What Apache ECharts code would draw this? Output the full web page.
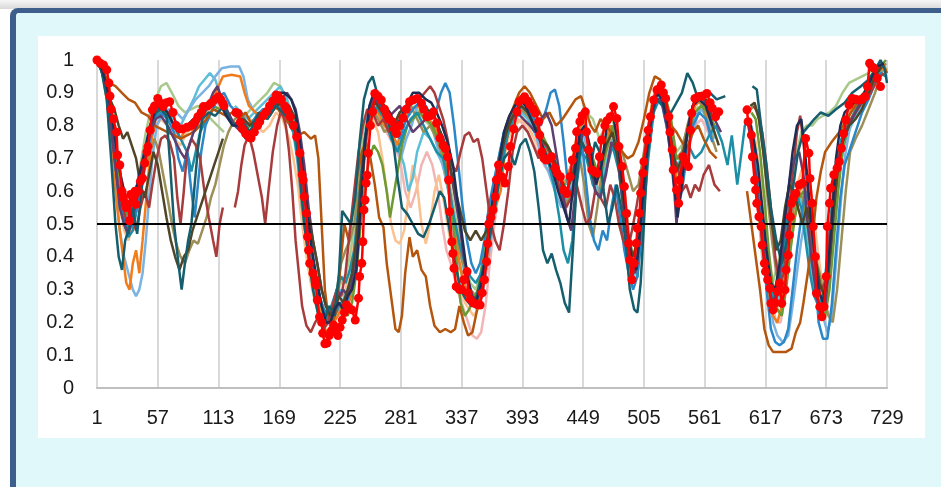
<!DOCTYPE html>
<html>
<head>
<meta charset="utf-8">
<script src="https://cdn.jsdelivr.net/npm/echarts@6/dist/echarts.min.js"></script>
<style>
html,body{margin:0;padding:0;width:941px;height:487px;overflow:hidden;background:#ffffff;}
#topstrip{position:absolute;left:0;top:0;width:941px;height:9px;background:linear-gradient(#f6f6f6,#d9d9d9);}
#frame{position:absolute;left:10px;top:8px;width:960px;height:520px;border-top:5px solid #3e5e8c;border-left:6px solid #3e5e8c;border-top-left-radius:8px;background:#e0f8fa;}
#chart{position:absolute;left:38px;top:36px;width:887px;height:402px;background:#ffffff;}
</style>
</head>
<body>
<div id="topstrip"></div>
<div id="frame"></div>
<div id="chart"></div>
<script>
// category labels 1..729 (positions along the sequence)
var categories = [];
for (var i = 1; i <= 729; i++) categories.push(String(i));
var yTicks = [0,0.1,0.2,0.3,0.4,0.5,0.6,0.7,0.8,0.9,1];
var threshold = 0.5;

// [position, value]; null = gap
var sDarkTeal = [[1,1.0],[5,0.97],[10,0.88],[14,0.7],[18,0.5],[21,0.4],[24,0.36],[27,0.45],[30,0.48],[34,0.55],[38,0.47],[42,0.6],[46,0.72],[50,0.8],[55,0.84],[60,0.85],[65,0.83],[68,0.7],[72,0.5],[76,0.38],[79,0.3],[82,0.38],[85,0.45],[88,0.5],[91,0.62],[94,0.73],[98,0.82],[104,0.84],[110,0.83],[118,0.86],[126,0.8],[134,0.82],[142,0.78],[150,0.84],[158,0.82],[166,0.86],[172,0.84],[178,0.82],[184,0.78],[188,0.65],[192,0.5],[196,0.4],[200,0.3],[205,0.22],[210,0.2],[215,0.25],[220,0.22],[224,0.35],[227,0.54],[231,0.52],[235,0.5],[239,0.58],[243,0.75],[247,0.88],[251,0.93],[255,0.95],[259,0.9],[264,0.86],[269,0.82],[274,0.75],[278,0.64],[282,0.55],[287,0.53],[292,0.5],[297,0.47],[302,0.46],[307,0.5],[312,0.55],[317,0.6],[321,0.58],[326,0.48],[331,0.38],[336,0.3],[341,0.27],[346,0.25],[351,0.28],[356,0.35],[361,0.42],[366,0.52],[371,0.62],[376,0.7],[381,0.72],[386,0.68],[391,0.74],[396,0.76],[400,0.72],[404,0.66],[408,0.55],[412,0.42],[416,0.38],[420,0.41],[424,0.36],[428,0.32],[432,0.26],[436,0.23],[440,0.45],[444,0.68],[448,0.75],[452,0.72],[456,0.68],[460,0.75],[464,0.72],[468,0.6],[472,0.5],[476,0.55],[480,0.62],[484,0.55],[488,0.45],[492,0.3],[496,0.24],[499,0.23],[502,0.32],[505,0.5],[508,0.7],[512,0.82],[516,0.88],[520,0.87],[525,0.85],[530,0.84],[535,0.87],[540,0.9],[545,0.96],[550,0.93],[555,0.88],[560,0.89],[566,0.9],[572,0.88],[580,0.89],null,[605,0.92],[609,0.91],[613,0.8],[617,0.7],[622,0.55],[627,0.45],[632,0.38],[637,0.45],[642,0.6],[647,0.72],[652,0.78],[657,0.8],[662,0.82],[668,0.84],[675,0.83],[682,0.85],[690,0.87],[697,0.9],[705,0.92],[712,0.94],[718,0.97],[723,1.0],[727,0.97],[729,0.93]];

var sBrown = [[1,1.0],[6,0.97],[12,0.93],[18,0.92],[24,0.9],[30,0.88],[36,0.87],[42,0.84],[48,0.83],[54,0.8],[60,0.79],[66,0.78],[72,0.77],[78,0.76],[84,0.77],[90,0.78],[96,0.8],[102,0.82],[108,0.85],[114,0.84],[120,0.83],[126,0.84],[132,0.82],[138,0.84],[144,0.8],[150,0.82],[156,0.84],[162,0.86],[168,0.85],[174,0.82],[180,0.8],[186,0.77],[192,0.78],[198,0.76],[202,0.77],[205,0.7],[208,0.5],[211,0.3],[214,0.22],[218,0.2],[222,0.24],[226,0.4],[229,0.5],[233,0.45],[237,0.55],[241,0.65],[245,0.72],[249,0.75],[253,0.7],[257,0.62],[261,0.52],[265,0.49],[268,0.38],[272,0.28],[276,0.18],[279,0.17],[282,0.22],[285,0.35],[289,0.46],[292,0.4],[296,0.42],[300,0.36],[304,0.34],[308,0.25],[312,0.19],[317,0.17],[322,0.18],[327,0.17],[331,0.18],[335,0.25],[339,0.2],[343,0.16],[347,0.17],[352,0.25],[357,0.35],[362,0.45],[367,0.58],[372,0.7],[378,0.8],[384,0.85],[390,0.9],[395,0.92],[400,0.9],[406,0.86],[412,0.82],[418,0.84],[424,0.8],[430,0.82],[436,0.85],[442,0.88],[447,0.89],[452,0.84],[456,0.8],[460,0.78],[465,0.82],[470,0.8],[475,0.78],[480,0.74],[485,0.72],[490,0.7],[495,0.71],[500,0.75],[505,0.82],[510,0.9],[515,0.95],[520,0.94],[525,0.88],[530,0.8],[535,0.78],[540,0.75],[545,0.73],[550,0.78],[555,0.8],[560,0.76],[566,0.72],[572,0.7],null,[600,0.6],[604,0.5],[608,0.4],[612,0.3],[616,0.18],[620,0.13],[624,0.11],[630,0.11],[636,0.11],[641,0.12],[645,0.17],[649,0.2],[652,0.26],[656,0.35],[660,0.45],[664,0.58],[668,0.66],[672,0.72],[678,0.75],[685,0.78],[692,0.82],[700,0.86],[708,0.9],[715,0.94],[720,0.97],[725,0.99],[729,0.96]];

var sOrange = [[1,1.0],[6,0.96],[10,0.88],[14,0.75],[18,0.6],[22,0.48],[25,0.4],[28,0.32],[31,0.3],[34,0.38],[37,0.42],[40,0.35],[43,0.45],[47,0.6],[51,0.75],[55,0.82],[60,0.85],[66,0.84],[72,0.8],[78,0.76],[84,0.8],[90,0.78],[96,0.8],[102,0.85],[108,0.88],[113,0.92],[117,0.95],[125,0.955],[133,0.95],[137,0.9],[141,0.86],[147,0.84],[153,0.83],[159,0.85],[165,0.88],[171,0.86],[177,0.84],[183,0.8],[187,0.72],[191,0.6],[195,0.5],[199,0.4],[203,0.3],[207,0.22],[211,0.18],[215,0.17],[219,0.2],[223,0.22],[227,0.25],[231,0.24],[235,0.28],[239,0.35],[243,0.52],[247,0.68],[251,0.8],[255,0.86],[260,0.84],[266,0.8],[272,0.78],[278,0.74],[283,0.82],[289,0.84],[295,0.86],[301,0.85],[306,0.82],[312,0.8],[318,0.74],[323,0.68],[328,0.55],[333,0.42],[338,0.33],[343,0.28],[348,0.26],[353,0.28],[358,0.35],[363,0.45],[368,0.55],[373,0.6],[378,0.75],[384,0.83],[390,0.86],[396,0.85],[402,0.82],[408,0.78],[414,0.72],[420,0.7],[426,0.65],[432,0.62],[438,0.68],[444,0.78],[450,0.82],[456,0.7],[462,0.64],[468,0.72],[474,0.8],[480,0.78],[486,0.6],[490,0.45],[494,0.36],[498,0.4],[502,0.55],[507,0.72],[512,0.86],[517,0.92],[522,0.92],[527,0.85],[532,0.72],[536,0.6],[540,0.68],[546,0.8],[552,0.86],[558,0.88],[564,0.83],[570,0.8],null,[604,0.78],[608,0.65],[612,0.52],[616,0.38],[620,0.28],[624,0.22],[628,0.2],[632,0.25],[636,0.35],[640,0.45],[644,0.52],[648,0.6],[652,0.62],[656,0.58],[660,0.45],[664,0.32],[668,0.25],[672,0.28],[676,0.4],[680,0.55],[685,0.68],[690,0.78],[696,0.85],[702,0.88],[708,0.9],[714,0.95],[720,0.98],[725,0.97]];

var sLightBlue = [[1,1.0],[6,0.96],[10,0.9],[14,0.78],[18,0.62],[22,0.48],[26,0.4],[30,0.35],[34,0.3],[37,0.28],[40,0.3],[43,0.35],[46,0.45],[49,0.58],[52,0.7],[56,0.8],[62,0.84],[68,0.85],[74,0.84],[80,0.82],[86,0.85],[92,0.88],[98,0.9],[104,0.92],[110,0.95],[116,0.975],[124,0.98],[132,0.98],[136,0.95],[140,0.88],[146,0.84],[152,0.82],[158,0.85],[164,0.88],[170,0.86],[176,0.82],[182,0.78],[186,0.68],[190,0.55],[194,0.45],[198,0.36],[202,0.28],[206,0.22],[210,0.2],[214,0.22],[219,0.25],[224,0.23],[229,0.28],[234,0.3],[238,0.38],[242,0.5],[246,0.7],[250,0.82],[255,0.87],[260,0.88],[266,0.85],[271,0.8],[276,0.75],[281,0.7],[286,0.76],[291,0.8],[296,0.86],[301,0.88],[306,0.84],[311,0.78],[316,0.72],[321,0.66],[326,0.58],[331,0.45],[336,0.36],[341,0.3],[346,0.26],[351,0.24],[356,0.28],[361,0.38],[366,0.5],[371,0.62],[376,0.74],[381,0.8],[387,0.85],[393,0.87],[399,0.84],[405,0.78],[411,0.7],[417,0.66],[423,0.6],[429,0.55],[435,0.58],[441,0.7],[447,0.8],[452,0.74],[458,0.62],[464,0.66],[470,0.74],[476,0.8],[482,0.7],[487,0.52],[491,0.4],[495,0.33],[499,0.38],[503,0.55],[508,0.74],[513,0.86],[518,0.9],[524,0.88],[530,0.76],[535,0.62],[539,0.6],[544,0.7],[550,0.78],[556,0.85],[562,0.84],[568,0.78],null,[604,0.8],[608,0.72],[612,0.6],[616,0.45],[620,0.3],[624,0.2],[628,0.16],[633,0.14],[638,0.16],[642,0.25],[646,0.35],[650,0.45],[654,0.52],[658,0.55],[662,0.45],[666,0.32],[670,0.22],[674,0.17],[678,0.22],[682,0.38],[686,0.55],[690,0.7],[696,0.82],[702,0.86],[708,0.88],[714,0.92],[720,0.96],[726,0.97]];

var sBlue = [[1,1.0],[6,0.96],[10,0.9],[14,0.8],[18,0.68],[22,0.58],[26,0.52],[30,0.48],[34,0.5],[38,0.55],[42,0.62],[46,0.7],[50,0.76],[55,0.82],[60,0.84],[66,0.82],[72,0.78],[76,0.7],[80,0.66],[84,0.72],[88,0.6],[91,0.52],[94,0.62],[97,0.72],[101,0.8],[106,0.84],[112,0.88],[118,0.9],[124,0.86],[130,0.84],[136,0.82],[142,0.8],[148,0.83],[154,0.85],[160,0.84],[166,0.87],[172,0.85],[178,0.82],[184,0.78],[188,0.7],[192,0.58],[196,0.48],[200,0.4],[204,0.32],[208,0.25],[212,0.22],[216,0.2],[220,0.22],[225,0.26],[230,0.25],[235,0.3],[240,0.45],[244,0.62],[248,0.76],[252,0.85],[257,0.89],[262,0.87],[268,0.84],[274,0.8],[280,0.76],[286,0.82],[292,0.85],[298,0.87],[304,0.86],[310,0.82],[314,0.85],[318,0.9],[322,0.93],[326,0.9],[330,0.8],[334,0.68],[338,0.55],[342,0.45],[346,0.38],[350,0.35],[354,0.38],[358,0.45],[362,0.55],[366,0.62],[371,0.7],[376,0.78],[381,0.82],[386,0.84],[392,0.88],[398,0.85],[404,0.82],[410,0.8],[415,0.85],[419,0.9],[423,0.91],[427,0.86],[431,0.75],[435,0.62],[439,0.58],[443,0.7],[447,0.78],[451,0.65],[455,0.52],[459,0.45],[463,0.42],[467,0.48],[471,0.45],[475,0.55],[479,0.62],[483,0.52],[487,0.42],[491,0.35],[495,0.3],[499,0.34],[503,0.5],[507,0.68],[512,0.82],[517,0.88],[522,0.86],[527,0.78],[532,0.65],[536,0.55],[540,0.6],[545,0.72],[550,0.8],[556,0.84],[562,0.82],[568,0.75],null,[602,0.78],[606,0.7],[610,0.58],[614,0.45],[618,0.3],[622,0.18],[626,0.14],[630,0.13],[634,0.14],[638,0.18],[642,0.3],[646,0.42],[650,0.52],[654,0.6],[658,0.55],[662,0.38],[666,0.2],[670,0.15],[674,0.15],[678,0.25],[682,0.42],[686,0.58],[690,0.68],[694,0.72],[700,0.78],[706,0.84],[712,0.88],[718,0.93],[724,0.96]];

var sNavy = [[1,1.0],[6,0.97],[10,0.92],[14,0.85],[18,0.75],[22,0.66],[26,0.6],[30,0.55],[34,0.58],[38,0.62],[42,0.68],[46,0.74],[50,0.8],[55,0.85],[60,0.86],[66,0.84],[72,0.8],[78,0.79],[84,0.8],[90,0.82],[96,0.84],[102,0.86],[108,0.88],[114,0.87],[120,0.83],[126,0.8],[132,0.8],[138,0.76],[144,0.77],[150,0.8],[156,0.83],[162,0.86],[168,0.9],[174,0.9],[180,0.88],[184,0.84],[188,0.75],[192,0.62],[196,0.5],[200,0.4],[204,0.32],[208,0.25],[212,0.2],[216,0.2],[220,0.24],[224,0.26],[228,0.24],[232,0.28],[236,0.3],[240,0.36],[244,0.55],[248,0.75],[252,0.86],[256,0.9],[261,0.88],[266,0.86],[271,0.84],[276,0.8],[281,0.82],[286,0.86],[292,0.9],[298,0.9],[304,0.88],[309,0.87],[314,0.84],[319,0.8],[324,0.75],[329,0.68],[334,0.55],[338,0.45],[342,0.35],[346,0.28],[350,0.26],[354,0.3],[358,0.38],[362,0.48],[366,0.58],[371,0.68],[376,0.78],[381,0.83],[386,0.86],[391,0.88],[396,0.86],[401,0.82],[406,0.78],[411,0.74],[416,0.7],[421,0.66],[426,0.6],[431,0.55],[436,0.5],[441,0.65],[446,0.78],[451,0.8],[456,0.72],[461,0.62],[466,0.68],[471,0.8],[476,0.84],[481,0.75],[486,0.6],[490,0.48],[494,0.38],[498,0.36],[502,0.5],[507,0.7],[512,0.84],[517,0.9],[522,0.88],[527,0.8],[532,0.65],[536,0.52],[540,0.62],[545,0.78],[550,0.86],[556,0.88],[562,0.86],[568,0.8],null,[602,0.82],[606,0.76],[610,0.68],[614,0.55],[618,0.42],[622,0.32],[626,0.3],[630,0.38],[634,0.5],[638,0.6],[642,0.72],[646,0.8],[650,0.82],[654,0.7],[658,0.55],[662,0.42],[666,0.3],[670,0.26],[674,0.35],[678,0.5],[682,0.7],[686,0.8],[690,0.84],[696,0.86],[702,0.88],[708,0.9],[714,0.94],[720,0.98],[726,0.99]];

var sPurple = [[1,1.0],[6,0.96],[10,0.9],[14,0.8],[18,0.68],[22,0.55],[26,0.5],[30,0.47],[34,0.52],[38,0.58],[42,0.65],[46,0.72],[50,0.78],[55,0.82],[60,0.83],[66,0.8],[72,0.76],[78,0.72],[82,0.7],[86,0.74],[90,0.78],[96,0.82],[102,0.85],[108,0.9],[112,0.92],[116,0.88],[122,0.84],[128,0.8],[134,0.78],[140,0.76],[146,0.78],[152,0.82],[158,0.84],[164,0.86],[170,0.88],[176,0.9],[180,0.88],[184,0.85],[188,0.78],[192,0.68],[196,0.55],[200,0.45],[204,0.38],[208,0.3],[212,0.25],[216,0.22],[220,0.24],[224,0.28],[228,0.3],[232,0.28],[236,0.32],[240,0.4],[244,0.58],[248,0.74],[252,0.84],[257,0.88],[262,0.86],[268,0.82],[274,0.84],[280,0.86],[286,0.82],[292,0.78],[298,0.8],[304,0.82],[310,0.84],[315,0.8],[320,0.76],[325,0.7],[330,0.6],[335,0.5],[339,0.4],[343,0.33],[347,0.28],[351,0.27],[355,0.32],[359,0.4],[363,0.5],[368,0.6],[373,0.7],[378,0.78],[383,0.82],[388,0.84],[394,0.82],[400,0.8],[405,0.78],[410,0.82],[415,0.84],[420,0.8],[425,0.7],[430,0.6],[434,0.52],[438,0.48],[442,0.6],[446,0.74],[450,0.8],[455,0.72],[460,0.6],[465,0.58],[470,0.65],[475,0.75],[480,0.72],[485,0.58],[489,0.46],[493,0.38],[497,0.35],[501,0.45],[506,0.65],[511,0.8],[516,0.88],[521,0.88],[526,0.8],[530,0.7],[533,0.6],[535,0.5],[538,0.6],[542,0.72],[547,0.82],[552,0.88],[557,0.9],[563,0.86],[570,0.82],[576,0.78],null,[600,0.82],[604,0.75],[608,0.65],[612,0.52],[616,0.4],[620,0.3],[624,0.26],[628,0.3],[632,0.4],[636,0.55],[640,0.65],[644,0.7],[648,0.72],[652,0.65],[656,0.5],[660,0.38],[664,0.28],[668,0.22],[672,0.25],[676,0.38],[680,0.55],[684,0.68],[688,0.75],[694,0.8],[700,0.84],[706,0.88],[712,0.9],[718,0.95],[724,0.98]];

var sDarkRed = [[1,1.0],[5,0.97],[9,0.92],[13,0.82],[17,0.7],[21,0.6],[25,0.55],[29,0.5],[33,0.52],[37,0.48],[41,0.55],[45,0.6],[49,0.55],[52,0.62],[56,0.7],[60,0.76],[64,0.77],[68,0.75],[72,0.7],[75,0.58],[78,0.5],[81,0.6],[84,0.72],[88,0.76],[92,0.74],[96,0.7],[100,0.6],[104,0.52],[108,0.45],[111,0.4],[114,0.5],[117,0.55],null,[128,0.55],[131,0.6],[134,0.68],[137,0.74],[141,0.77],[145,0.72],[149,0.65],[153,0.58],[156,0.5],[159,0.6],[163,0.72],[167,0.8],[171,0.85],[175,0.8],[178,0.72],[181,0.6],[184,0.45],[187,0.35],[190,0.25],[194,0.19],[198,0.17],[202,0.2],[206,0.22],[210,0.18],[214,0.2],[218,0.25],[222,0.3],[226,0.28],[230,0.35],[234,0.48],[238,0.6],[242,0.72],[246,0.8],[250,0.85],[255,0.84],[260,0.8],[265,0.82],[270,0.78],[275,0.8],[280,0.84],[286,0.85],[292,0.87],[298,0.88],[303,0.9],[308,0.92],[312,0.9],[316,0.86],[320,0.82],[324,0.76],[328,0.68],[332,0.66],[336,0.72],[340,0.77],[344,0.78],[348,0.75],[352,0.76],[356,0.7],[360,0.6],[364,0.5],[368,0.45],[372,0.42],[376,0.5],[380,0.6],[384,0.72],[388,0.78],[393,0.8],[398,0.78],[403,0.74],[408,0.7],[413,0.75],[418,0.72],[423,0.66],[428,0.6],[433,0.55],[438,0.58],[443,0.62],[448,0.55],[452,0.5],[456,0.52],[460,0.6],[465,0.58],[470,0.55],[474,0.62],[478,0.58],[482,0.5],[486,0.45],[490,0.42],[494,0.48],[498,0.55],[503,0.65],[508,0.78],[513,0.86],[518,0.9],[523,0.88],[528,0.78],[532,0.7],[536,0.68],[540,0.6],[544,0.62],[548,0.58],[552,0.62],[556,0.6],[560,0.65],[565,0.68],[570,0.62],[575,0.6],null,[606,0.86],[610,0.84],[614,0.78],[618,0.68],[622,0.55],[626,0.4],[630,0.32],[634,0.35],[638,0.5],[642,0.65],[646,0.78],[649,0.83],[652,0.75],[656,0.6],[660,0.45],[664,0.35],[668,0.3],[672,0.32],[676,0.45],[680,0.6],[684,0.7],[690,0.78],[696,0.82],[702,0.85],[708,0.88],[714,0.9],[720,0.94],[726,0.96]];

var sOlive = [[1,1.0],[6,0.96],[10,0.9],[14,0.82],[18,0.72],[22,0.65],[26,0.6],[30,0.55],[34,0.52],[38,0.56],[42,0.62],[46,0.68],[50,0.72],[54,0.76],[58,0.72],[62,0.65],[66,0.58],[70,0.5],[74,0.44],[78,0.4],[82,0.38],[86,0.42],[90,0.45],[94,0.44],[98,0.48],[102,0.52],[106,0.58],[110,0.62],[114,0.68],[118,0.74],[122,0.78],[128,0.82],[134,0.84],[140,0.8],[146,0.82],[152,0.84],[158,0.82],[164,0.85],[170,0.87],[176,0.86],[182,0.8],[186,0.7],[190,0.55],[194,0.45],[198,0.35],[202,0.3],[206,0.26],[210,0.22],[214,0.2],[218,0.22],[222,0.3],[226,0.38],[230,0.42],[234,0.45],[238,0.5],[242,0.6],[246,0.72],[250,0.8],[255,0.85],[260,0.82],[266,0.78],[272,0.8],[278,0.82],[284,0.84],[290,0.86],[296,0.82],[302,0.78],[308,0.8],[314,0.76],[320,0.7],[325,0.6],[330,0.5],[335,0.42],[340,0.36],[345,0.3],[350,0.28],[355,0.32],[360,0.42],[365,0.55],[370,0.66],[375,0.74],[380,0.8],[386,0.84],[392,0.85],[398,0.83],[404,0.8],[410,0.76],[416,0.72],[422,0.68],[428,0.62],[434,0.56],[440,0.62],[446,0.7],[450,0.62],[454,0.5],[458,0.46],[462,0.55],[466,0.65],[470,0.72],[475,0.78],[480,0.76],[485,0.72],[490,0.66],[495,0.6],[500,0.62],[505,0.72],[510,0.82],[515,0.9],[520,0.92],[525,0.85],[530,0.75],[535,0.7],[540,0.72],[545,0.8],[550,0.86],[555,0.88],[560,0.85],[566,0.78],[572,0.72],null,[603,0.85],[607,0.86],[611,0.82],[615,0.72],[619,0.58],[623,0.45],[627,0.35],[631,0.3],[635,0.35],[639,0.45],[643,0.55],[647,0.6],[651,0.58],[655,0.5],[659,0.45],[663,0.4],[667,0.35],[671,0.28],[675,0.22],[679,0.2],[683,0.3],[687,0.45],[691,0.6],[695,0.72],[700,0.76],[706,0.8],[712,0.85],[718,0.9],[724,0.97],[728,0.99]];

var sDarkOlive = [[1,1.0],[5,0.97],[9,0.93],[13,0.88],[17,0.85],[21,0.8],[25,0.76],[29,0.78],[33,0.74],[37,0.7],[41,0.62],[45,0.58],[49,0.65],[53,0.72],[57,0.68],[61,0.6],[65,0.52],[69,0.45],[73,0.4],[77,0.36],[81,0.4],[85,0.42],[89,0.48],[93,0.52],[97,0.56],[101,0.6],[105,0.64],[109,0.68],[113,0.72],[117,0.76],null,[130,0.8],[136,0.82],[142,0.8],[148,0.82],[154,0.84],[160,0.83],[166,0.86],[172,0.87],[178,0.86],[184,0.82],[188,0.74],[192,0.62],[196,0.52],[200,0.45],[204,0.38],[208,0.3],[212,0.25],[216,0.22],[220,0.25],[224,0.28],[228,0.26],[232,0.3],[236,0.35],[240,0.45],[244,0.62],[248,0.76],[252,0.84],[257,0.87],[262,0.85],[268,0.82],[274,0.8],[280,0.84],[286,0.86],[292,0.88],[298,0.87],[304,0.85],[310,0.84],[315,0.8],[320,0.76],[325,0.7],[330,0.62],[335,0.55],[340,0.48],[345,0.45],[350,0.48],[355,0.45],[360,0.48],[365,0.55],[370,0.65],[375,0.74],[380,0.8],[386,0.84],[392,0.86],[398,0.84],[404,0.8],[410,0.76],[416,0.74],[422,0.7],[428,0.64],[434,0.6],[440,0.66],[446,0.76],[452,0.72],[458,0.64],[464,0.66],[470,0.74],[476,0.78],[482,0.68],[487,0.55],[491,0.45],[495,0.4],[499,0.45],[504,0.62],[509,0.78],[514,0.88],[519,0.9],[525,0.86],[530,0.76],[535,0.66],[540,0.7],[545,0.78],[550,0.86],[556,0.9],[562,0.88],[568,0.8],[574,0.74],null,[603,0.86],[607,0.87],[611,0.82],[615,0.72],[619,0.6],[623,0.5],[627,0.42],[631,0.45],[635,0.55],[639,0.62],[643,0.6],[647,0.55],[651,0.5],[655,0.55],[659,0.5],[663,0.4],[667,0.32],[671,0.28],[675,0.35],[679,0.5],[683,0.65],[688,0.75],[694,0.8],[700,0.82],[706,0.85],[712,0.9],[718,0.95],[724,0.98]];

var sLightGreen = [[1,1.0],[6,0.97],[10,0.92],[14,0.85],[18,0.75],[22,0.66],[26,0.6],[30,0.56],[34,0.58],[38,0.62],[42,0.7],[46,0.78],[50,0.84],[55,0.88],[60,0.92],[65,0.93],[70,0.9],[76,0.86],[82,0.84],[88,0.85],[94,0.86],[100,0.84],[106,0.82],[112,0.8],[118,0.78],null,[128,0.8],[134,0.82],[140,0.84],[146,0.86],[152,0.88],[158,0.9],[164,0.93],[170,0.92],[176,0.88],[182,0.82],[186,0.72],[190,0.6],[194,0.5],[198,0.42],[202,0.35],[206,0.28],[210,0.24],[214,0.22],[218,0.25],[222,0.3],[226,0.32],[230,0.34],[234,0.4],[238,0.5],[242,0.66],[246,0.78],[250,0.84],[255,0.86],[260,0.84],[266,0.8],[272,0.78],[278,0.8],[284,0.84],[290,0.86],[296,0.85],[302,0.82],[308,0.8],[314,0.76],[320,0.72],[325,0.64],[330,0.55],[335,0.45],[340,0.38],[345,0.32],[350,0.3],[355,0.35],[360,0.45],[365,0.55],[370,0.65],[375,0.74],[380,0.8],[386,0.85],[392,0.86],[398,0.84],[404,0.8],[410,0.76],[416,0.72],[422,0.7],[428,0.65],[434,0.62],[440,0.68],[446,0.78],[452,0.84],[458,0.82],[464,0.76],[470,0.8],[476,0.82],[482,0.74],[487,0.6],[491,0.48],[495,0.4],[499,0.44],[504,0.6],[509,0.76],[514,0.86],[519,0.9],[524,0.88],[530,0.8],[535,0.72],[540,0.74],[546,0.8],[552,0.85],[558,0.86],[564,0.82],[570,0.78],null,[602,0.78],[606,0.7],[610,0.55],[614,0.4],[618,0.32],[622,0.3],[626,0.35],[630,0.4],[634,0.45],[638,0.55],[642,0.65],[646,0.72],[650,0.78],[655,0.8],[660,0.8],[665,0.82],[670,0.83],[676,0.84],[682,0.86],[688,0.9],[694,0.93],[700,0.94],[706,0.95],[712,0.96],[718,0.98],[724,0.99],[729,0.97]];

var sGreen = [[1,1.0],[6,0.96],[10,0.9],[14,0.8],[18,0.7],[22,0.62],[26,0.56],[30,0.52],[34,0.55],[38,0.6],[42,0.66],[46,0.72],[50,0.78],[55,0.83],[60,0.85],[66,0.83],[72,0.8],[78,0.78],[84,0.8],[90,0.82],[96,0.84],[102,0.85],[108,0.86],[114,0.85],null,[130,0.8],[136,0.78],[142,0.8],[148,0.82],[154,0.84],[160,0.86],[166,0.88],[172,0.86],[178,0.84],[184,0.8],[188,0.72],[192,0.6],[196,0.48],[200,0.38],[204,0.3],[208,0.25],[212,0.22],[216,0.2],[220,0.22],[224,0.25],[228,0.24],[232,0.22],[236,0.26],[240,0.35],[244,0.5],[248,0.62],[252,0.7],[256,0.74],[260,0.72],[264,0.68],[268,0.6],[271,0.52],[274,0.58],[278,0.66],[282,0.74],[287,0.8],[292,0.82],[298,0.84],[304,0.82],[310,0.8],[315,0.76],[320,0.72],[324,0.65],[328,0.55],[332,0.4],[336,0.26],[340,0.22],[344,0.24],[348,0.27],[352,0.3],[356,0.38],[360,0.48],[365,0.58],[370,0.68],[375,0.76],[380,0.82],[386,0.86],[392,0.88],[398,0.86],[404,0.82],[410,0.78],[416,0.74],[422,0.7],[428,0.64],[434,0.6],[440,0.66],[446,0.76],[452,0.78],[458,0.7],[464,0.64],[470,0.72],[476,0.8],[482,0.72],[487,0.56],[491,0.42],[495,0.35],[499,0.38],[504,0.55],[509,0.75],[514,0.87],[519,0.91],[524,0.9],[530,0.82],[535,0.7],[540,0.7],[546,0.78],[552,0.84],[558,0.86],[564,0.84],[570,0.8],null,[604,0.84],[608,0.82],[612,0.72],[616,0.58],[620,0.42],[624,0.3],[628,0.24],[632,0.22],[636,0.3],[640,0.42],[644,0.52],[648,0.58],[652,0.6],[656,0.5],[660,0.38],[664,0.3],[668,0.24],[672,0.22],[676,0.3],[680,0.45],[684,0.6],[688,0.72],[693,0.8],[699,0.84],[705,0.88],[711,0.9],[717,0.95],[723,0.98],[728,1.0]];

var sPink = [[1,1.0],[6,0.96],[10,0.9],[14,0.8],[18,0.7],[22,0.62],[26,0.58],[30,0.55],[34,0.57],[38,0.62],[42,0.68],[46,0.74],[50,0.78],[55,0.8],[60,0.82],[66,0.8],[72,0.78],[78,0.76],[84,0.78],[90,0.8],[96,0.83],[102,0.86],[108,0.88],[114,0.86],null,[130,0.8],[136,0.78],[142,0.78],[148,0.8],[154,0.82],[160,0.84],[166,0.86],[172,0.84],[178,0.82],[184,0.78],[188,0.7],[192,0.58],[196,0.46],[200,0.36],[204,0.28],[208,0.24],[212,0.2],[216,0.19],[220,0.2],[224,0.24],[228,0.26],[232,0.25],[236,0.3],[240,0.4],[244,0.58],[248,0.74],[252,0.82],[257,0.85],[262,0.82],[268,0.78],[274,0.74],[280,0.7],[285,0.6],[290,0.55],[295,0.6],[300,0.68],[305,0.72],[310,0.68],[315,0.6],[319,0.5],[323,0.42],[327,0.38],[331,0.33],[335,0.28],[339,0.24],[343,0.2],[347,0.16],[351,0.15],[355,0.17],[359,0.25],[363,0.38],[368,0.52],[373,0.65],[378,0.74],[383,0.8],[389,0.82],[395,0.8],[401,0.76],[407,0.72],[413,0.68],[419,0.65],[424,0.6],[429,0.58],[434,0.55],[439,0.62],[444,0.72],[450,0.76],[456,0.68],[462,0.6],[468,0.66],[474,0.74],[480,0.72],[485,0.58],[490,0.45],[494,0.36],[498,0.35],[503,0.5],[508,0.7],[513,0.84],[518,0.9],[523,0.88],[528,0.8],[533,0.7],[537,0.62],[541,0.66],[546,0.74],[552,0.8],[558,0.82],[564,0.78],[570,0.74],null,[603,0.8],[607,0.74],[611,0.62],[615,0.48],[619,0.35],[623,0.26],[627,0.2],[631,0.2],[635,0.28],[639,0.4],[643,0.5],[647,0.58],[651,0.62],[655,0.55],[659,0.42],[663,0.32],[667,0.25],[671,0.22],[675,0.3],[679,0.45],[683,0.6],[688,0.72],[694,0.8],[700,0.84],[706,0.86],[712,0.9],[718,0.94],[724,0.97]];

var sPeach = [[1,1.0],[6,0.96],[10,0.9],[14,0.78],[18,0.65],[22,0.55],[26,0.48],[30,0.45],[34,0.5],[38,0.56],[42,0.62],[46,0.7],[50,0.76],[55,0.8],[60,0.82],[66,0.8],[72,0.76],[78,0.74],[84,0.78],[90,0.8],[96,0.82],[102,0.84],[108,0.86],[114,0.85],null,[130,0.82],[136,0.8],[142,0.82],[148,0.8],[154,0.78],[160,0.8],[166,0.84],[172,0.82],[178,0.76],[182,0.7],[186,0.62],[190,0.5],[194,0.4],[198,0.32],[202,0.26],[206,0.22],[210,0.2],[214,0.2],[218,0.22],[222,0.26],[226,0.28],[230,0.3],[234,0.36],[238,0.48],[242,0.62],[246,0.74],[250,0.8],[255,0.82],[260,0.78],[264,0.7],[268,0.6],[272,0.5],[276,0.45],[280,0.44],[284,0.48],[288,0.58],[292,0.68],[296,0.62],[300,0.5],[304,0.44],[308,0.5],[312,0.6],[316,0.65],[320,0.58],[324,0.5],[328,0.42],[332,0.35],[336,0.3],[340,0.26],[344,0.24],[348,0.22],[352,0.24],[356,0.3],[360,0.4],[365,0.52],[370,0.62],[375,0.7],[380,0.76],[386,0.8],[392,0.82],[398,0.8],[404,0.76],[410,0.72],[416,0.7],[422,0.66],[428,0.62],[434,0.6],[440,0.66],[446,0.76],[452,0.74],[458,0.66],[464,0.62],[470,0.7],[476,0.78],[482,0.7],[487,0.56],[491,0.44],[495,0.36],[499,0.38],[504,0.56],[509,0.76],[514,0.88],[519,0.92],[524,0.9],[530,0.8],[535,0.7],[540,0.72],[546,0.8],[552,0.85],[558,0.86],[564,0.82],[570,0.76],null,[604,0.8],[608,0.75],[612,0.65],[616,0.52],[620,0.4],[624,0.32],[628,0.28],[632,0.3],[636,0.4],[640,0.5],[644,0.58],[648,0.64],[652,0.68],[656,0.66],[660,0.58],[664,0.45],[668,0.35],[672,0.3],[676,0.4],[680,0.58],[684,0.7],[690,0.78],[696,0.82],[702,0.85],[708,0.88],[714,0.92],[720,0.95],[726,0.98]];

var sCyanTeal = [[1,1.0],[6,0.96],[10,0.9],[14,0.8],[18,0.68],[22,0.56],[26,0.5],[30,0.46],[34,0.48],[38,0.55],[42,0.64],[46,0.72],[50,0.78],[55,0.83],[60,0.86],[66,0.84],[72,0.8],[78,0.76],[84,0.72],[88,0.66],[92,0.72],[96,0.78],[102,0.82],[108,0.85],[114,0.84],null,[128,0.8],[134,0.82],[140,0.78],[146,0.8],[152,0.82],[158,0.84],[164,0.86],[170,0.85],[176,0.82],[182,0.78],[186,0.7],[190,0.58],[194,0.48],[198,0.4],[202,0.32],[206,0.28],[210,0.24],[214,0.22],[218,0.26],[222,0.3],[226,0.34],[230,0.32],[234,0.36],[238,0.42],[242,0.55],[246,0.7],[250,0.8],[255,0.86],[260,0.85],[266,0.82],[272,0.76],[278,0.72],[284,0.78],[290,0.82],[296,0.84],[302,0.8],[308,0.76],[314,0.72],[320,0.7],[325,0.62],[330,0.52],[335,0.44],[340,0.38],[345,0.34],[350,0.32],[355,0.35],[360,0.42],[365,0.5],[370,0.6],[375,0.7],[380,0.78],[386,0.83],[392,0.86],[398,0.84],[404,0.8],[410,0.76],[416,0.7],[422,0.62],[427,0.52],[431,0.42],[435,0.38],[439,0.45],[443,0.62],[447,0.72],[452,0.7],[458,0.62],[464,0.58],[470,0.66],[476,0.74],[482,0.66],[487,0.52],[491,0.4],[495,0.32],[499,0.34],[504,0.5],[509,0.7],[514,0.84],[519,0.88],[524,0.86],[530,0.76],[535,0.66],[540,0.68],[546,0.74],[552,0.7],[558,0.72],[565,0.77],[571,0.8],[577,0.75],[582,0.68],[586,0.77],[591,0.62],[595,0.72],[598,0.8],[602,0.82],[606,0.74],[610,0.6],[614,0.48],[618,0.38],[622,0.3],[626,0.26],[630,0.3],[634,0.42],[638,0.55],[642,0.6],[646,0.58],[650,0.55],[654,0.45],[658,0.35],[662,0.28],[666,0.25],[670,0.28],[674,0.4],[678,0.55],[682,0.68],[687,0.76],[693,0.8],[699,0.84],[705,0.87],[711,0.9],[717,0.93],[723,0.96],[728,0.95]];

var sSky = [[1,1.0],[6,0.96],[10,0.9],[14,0.82],[18,0.7],[22,0.6],[26,0.55],[30,0.52],[34,0.55],[38,0.6],[42,0.68],[46,0.74],[50,0.8],[55,0.84],[60,0.86],[66,0.84],[72,0.82],[78,0.8],[84,0.84],[90,0.88],[95,0.92],[100,0.94],[105,0.96],[110,0.94],[114,0.9],null,[128,0.86],[134,0.84],[140,0.82],[146,0.84],[152,0.86],[158,0.88],[164,0.9],[170,0.92],[176,0.88],[182,0.82],[186,0.72],[190,0.6],[194,0.5],[198,0.42],[202,0.34],[206,0.28],[210,0.24],[214,0.22],[218,0.24],[222,0.28],[226,0.3],[230,0.28],[234,0.32],[238,0.4],[242,0.55],[246,0.72],[250,0.82],[255,0.88],[260,0.86],[266,0.82],[272,0.78],[278,0.74],[284,0.68],[288,0.6],[292,0.64],[296,0.72],[302,0.78],[308,0.76],[314,0.72],[320,0.68],[325,0.6],[330,0.5],[335,0.42],[340,0.35],[345,0.3],[350,0.28],[355,0.32],[360,0.4],[365,0.52],[370,0.62],[375,0.72],[380,0.78],[386,0.82],[392,0.84],[398,0.82],[404,0.78],[410,0.74],[416,0.7],[422,0.66],[428,0.6],[434,0.56],[440,0.64],[446,0.74],[452,0.72],[458,0.64],[464,0.6],[470,0.68],[476,0.76],[482,0.68],[487,0.54],[491,0.42],[495,0.34],[499,0.36],[504,0.52],[509,0.72],[514,0.85],[519,0.89],[524,0.87],[530,0.78],[535,0.68],[540,0.7],[546,0.78],[552,0.83],[558,0.85],[564,0.82],[570,0.76],null,[604,0.78],[608,0.72],[612,0.6],[616,0.48],[620,0.36],[624,0.28],[628,0.25],[632,0.3],[636,0.42],[640,0.52],[644,0.56],[648,0.58],[652,0.55],[656,0.45],[660,0.35],[664,0.28],[668,0.24],[672,0.26],[676,0.38],[680,0.52],[684,0.65],[690,0.75],[696,0.8],[702,0.84],[708,0.87],[714,0.9],[720,0.94],[726,0.97]];

var sRed = [[1,1.0],[4,0.99],[7,0.985],[10,0.97],[12,0.93],[13,0.89],[14,0.85],[16,0.82],[19,0.78],[20,0.71],[22,0.68],[24,0.6],[25,0.58],[27,0.56],[28,0.55],[30,0.56],[31,0.51],[32,0.59],[34,0.58],[36,0.6],[37,0.56],[39,0.6],[41,0.63],[43,0.64],[45,0.686],[47,0.72],[48,0.736],[50,0.786],[52,0.848],[54,0.86],[57,0.883],[59,0.87],[62,0.858],[65,0.87],[68,0.873],[71,0.84],[74,0.8],[77,0.79],[80,0.79],[84,0.795],[88,0.8],[91,0.81],[94,0.827],[97,0.84],[99,0.858],[103,0.86],[106,0.868],[110,0.88],[113,0.888],[115,0.88],[117,0.868],[118,0.86],null,[129,0.84],[131,0.838],[133,0.81],[135,0.79],[138,0.775],[141,0.765],[143,0.762],[146,0.78],[149,0.8],[151,0.812],[154,0.83],[157,0.842],[160,0.86],[163,0.875],[166,0.893],[168,0.89],[171,0.878],[174,0.86],[176,0.848],[179,0.827],[182,0.8],[185,0.766],[188,0.716],[190,0.65],[191,0.634],[192,0.583],[194,0.533],[195,0.461],[196,0.42],[197,0.38],[200,0.35],[202,0.33],[203,0.314],[204,0.268],[206,0.217],[208,0.2],[209,0.167],[211,0.135],[213,0.137],[215,0.16],[217,0.175],[219,0.192],[221,0.17],[223,0.16],[225,0.185],[227,0.207],[229,0.23],[231,0.253],[233,0.245],[236,0.238],[239,0.207],[242,0.274],[243,0.34],[245,0.38],[246,0.446],[247,0.543],[248,0.573],[249,0.625],[250,0.649],[251,0.716],[253,0.8],[255,0.842],[257,0.898],[260,0.89],[263,0.878],[266,0.85],[268,0.832],[270,0.82],[273,0.812],[275,0.79],[277,0.776],[280,0.8],[283,0.823],[286,0.85],[289,0.873],[292,0.878],[296,0.883],[300,0.868],[302,0.85],[305,0.827],[308,0.83],[311,0.842],[314,0.808],[317,0.762],[320,0.74],[322,0.73],[324,0.705],[325,0.634],[326,0.537],[328,0.446],[329,0.41],[330,0.365],[332,0.309],[335,0.3],[337,0.3],[339,0.33],[342,0.355],[343,0.29],[345,0.27],[348,0.259],[351,0.255],[354,0.253],[356,0.29],[358,0.33],[360,0.385],[361,0.44],[362,0.5],[364,0.52],[366,0.543],[368,0.583],[369,0.634],[371,0.68],[374,0.644],[377,0.625],[380,0.675],[382,0.736],[385,0.79],[388,0.842],[390,0.873],[393,0.88],[395,0.888],[398,0.875],[400,0.863],[403,0.85],[405,0.838],[408,0.812],[409,0.771],[411,0.72],[413,0.7],[415,0.695],[418,0.7],[420,0.705],[423,0.67],[425,0.655],[428,0.644],[431,0.604],[434,0.593],[437,0.644],[439,0.695],[442,0.731],[443,0.781],[446,0.812],[448,0.83],[451,0.842],[452,0.781],[454,0.726],[457,0.665],[459,0.66],[462,0.655],[464,0.705],[466,0.756],[469,0.8],[471,0.815],[474,0.827],[477,0.858],[480,0.822],[482,0.736],[485,0.675],[487,0.614],[489,0.532],[491,0.441],[492,0.39],[494,0.33],[496,0.38],[498,0.441],[499,0.487],[501,0.533],[502,0.594],[504,0.655],[505,0.69],[508,0.756],[509,0.786],[511,0.827],[514,0.878],[517,0.909],[521,0.924],[523,0.9],[525,0.883],[528,0.827],[529,0.78],[531,0.726],[532,0.665],[535,0.604],[537,0.563],[538,0.634],[541,0.705],[543,0.69],[546,0.675],[548,0.786],[549,0.838],[552,0.883],[555,0.888],[559,0.89],[563,0.898],[566,0.87],[568,0.853],[571,0.827],[574,0.842],null,[600,0.848],[601,0.812],[604,0.771],[605,0.705],[607,0.634],[608,0.604],[609,0.563],[611,0.522],[613,0.492],[614,0.436],[616,0.38],[617,0.355],[619,0.33],[621,0.304],[622,0.258],[624,0.238],[626,0.26],[628,0.294],[630,0.319],[632,0.258],[635,0.299],[636,0.36],[638,0.405],[639,0.466],[640,0.522],[641,0.563],[643,0.58],[645,0.593],[648,0.619],[651,0.624],[654,0.761],[657,0.716],[658,0.639],[660,0.563],[661,0.492],[663,0.4],[664,0.289],[667,0.248],[669,0.217],[671,0.248],[673,0.34],[674,0.492],[676,0.563],[677,0.609],[680,0.65],[683,0.67],[685,0.69],[687,0.731],[689,0.776],[691,0.817],[694,0.863],[697,0.883],[700,0.88],[703,0.878],[706,0.88],[709,0.888],[711,0.919],[713,0.99],[715,0.98],[717,0.975],[720,0.944],[723,0.919]];

var lineSeries = [
  {name:'A', color:'#155e6d', data:sDarkTeal},
  {name:'B', color:'#b4560e', data:sBrown},
  {name:'C', color:'#f07c1c', data:sOrange},
  {name:'D', color:'#7ab3e2', data:sLightBlue},
  {name:'E', color:'#2a87c8', data:sBlue},
  {name:'F', color:'#1f2d55', data:sNavy},
  {name:'G', color:'#5f3f70', data:sPurple},
  {name:'H', color:'#a83b3b', data:sDarkRed},
  {name:'I', color:'#9c9058', data:sOlive},
  {name:'J', color:'#4f4628', data:sDarkOlive},
  {name:'K', color:'#a9c98c', data:sLightGreen},
  {name:'L', color:'#6e9a33', data:sGreen},
  {name:'M', color:'#f3b4b4', data:sPink},
  {name:'N', color:'#fbc18f', data:sPeach},
  {name:'O', color:'#1c8ea5', data:sCyanTeal},
  {name:'P', color:'#5cbfd9', data:sSky}
];

function toItems(arr) {
  var out = [];
  for (var i = 0; i < arr.length; i++) {
    var p = arr[i];
    if (p === null) {
      var prev = out.length ? out[out.length-1][0] : 0;
      out.push([prev + 1, null]);
    } else {
      out.push([p[0] - 1, p[1]]);
    }
  }
  return out;
}

var series = [];
var order = ['M','N','K','P','D','I','C','L','O','E','B','H','G','J','A','F'];
order.forEach(function (nm) {
  var s = lineSeries.filter(function (x) { return x.name === nm; })[0];
  series.push({
    name: s.name, type: 'line', data: toItems(s.data), symbol: 'none',
    lineStyle: {color: s.color, width: 2.5}, itemStyle: {color: s.color},
    connectNulls: false, z: 2, silent: true, animation: false
  });
});
series.push({
  name: 'threshold', type: 'line', data: [[0, threshold], [728, threshold]],
  symbol: 'none', lineStyle: {color: '#000000', width: 2}, z: 3, silent: true, animation: false
});
series.push({
  name: 'mean', type: 'line', data: toItems(sRed), symbol: 'circle', symbolSize: 9,
  showAllSymbol: true, lineStyle: {color: '#ff0000', width: 2.5}, itemStyle: {color: '#ff0000'},
  connectNulls: false, z: 4, silent: true, animation: false
});

var chart = echarts.init(document.getElementById('chart'), null, {renderer: 'canvas'});
chart.setOption({
  animation: false,
  backgroundColor: '#ffffff',
  textStyle: {fontFamily: 'Liberation Sans, Arial, sans-serif'},
  grid: {left: 59, right: 38, top: 24, bottom: 50, containLabel: false},
  xAxis: {
    type: 'category', data: categories, boundaryGap: false,
    axisLine: {lineStyle: {color: '#bfbfbf', width: 2}},
    axisTick: {show: false},
    axisLabel: {interval: 55, color: '#1a1a1a', fontSize: 20, margin: 20, fontFamily: 'Liberation Sans'},
    splitLine: {show: true, interval: 55, lineStyle: {color: '#d9d9d9', width: 2}}
  },
  yAxis: {
    type: 'value', min: yTicks[0], max: yTicks[yTicks.length-1], interval: 0.1,
    axisLine: {show: false}, axisTick: {show: false}, splitLine: {show: false},
    axisLabel: {color: '#1a1a1a', fontSize: 20, margin: 23, fontFamily: 'Liberation Sans',
      formatter: function (v) { return String(+v.toFixed(1)); }}
  },
  series: series
});
</script>
</body>
</html>
